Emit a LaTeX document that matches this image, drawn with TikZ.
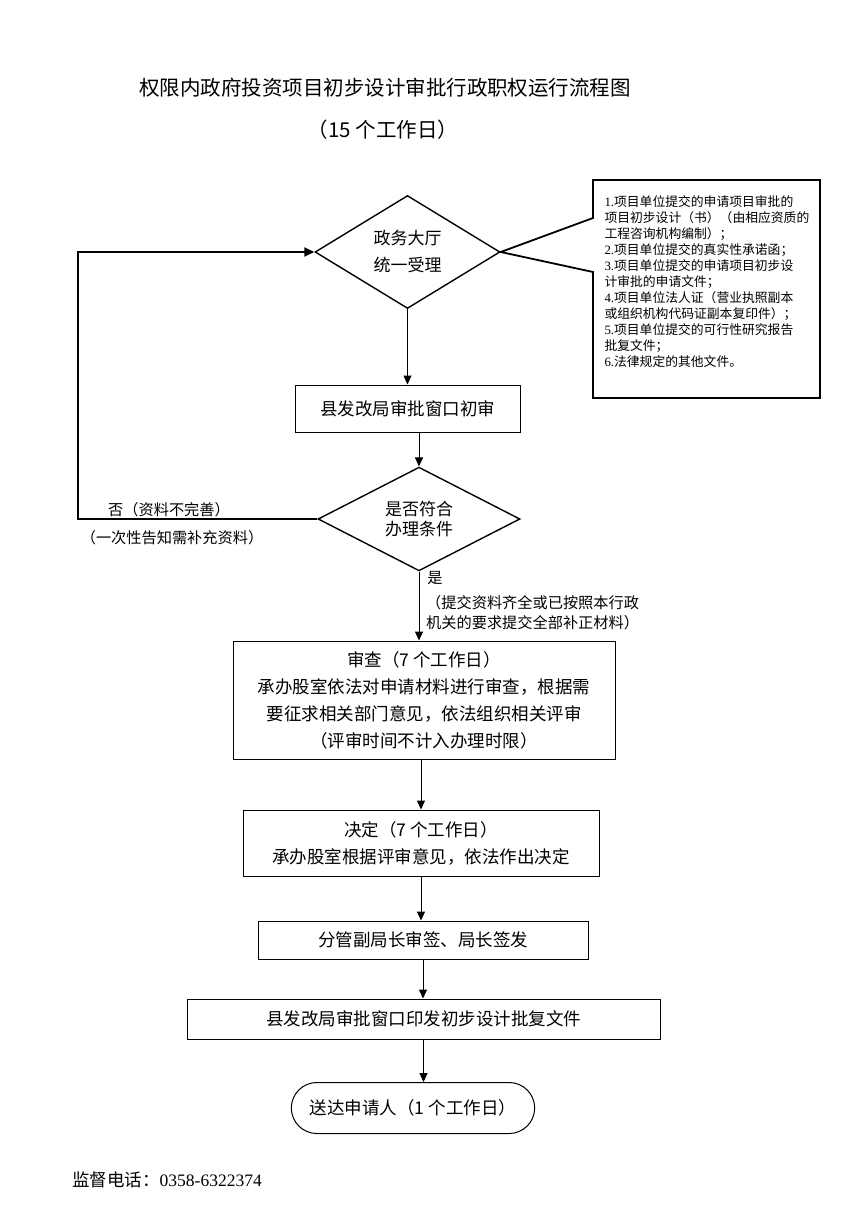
\documentclass[tikz,border=0pt]{standalone}
\usepackage{fontspec}
\setmainfont{Noto Sans CJK SC}
\newfontfamily\lat{Liberation Serif}
\usetikzlibrary{shapes.geometric,shapes.misc,arrows.meta}
\begin{document}
\begin{tikzpicture}[x=1pt,y=-1pt,box/.style={draw,line width=1pt,rectangle,inner sep=2pt,align=center,font=\fontsize{17.5}{27}\selectfont},dm/.style={draw,line width=1.4pt,diamond,inner sep=0pt,align=center,font=\fontsize{17}{27}\selectfont},term/.style={draw,line width=1pt,rounded rectangle,align=center,font=\fontsize{17.5}{27}\selectfont},arr/.style={line width=1pt,-{Triangle[length=9pt,width=8pt]}},lbl/.style={font=\fontsize{15.2}{20}\selectfont,inner sep=0pt},doc/.style={inner sep=0pt,text width=215pt,align=left,font=\fontsize{12.8}{16}\selectfont}]
\useasboundingbox (0,0) rectangle (858,1224);
\node[font=\fontsize{20.5}{24}\selectfont] (title) at (385,88) {权限内政府投资项目初步设计审批行政职权运行流程图};
\node[font=\fontsize{20.5}{24}\selectfont] (sub) at (383,130) {（15 个工作日）};

\node[dm,minimum width=185pt,minimum height=113pt] (zw) at (407.5,252) {政务大厅\\统一受理};
\node[doc] (docs) at (712,282) {{\lat 1.}项目单位提交的申请项目审批的\\项目初步设计（书）（由相应资质的\\工程咨询机构编制）；\\{\lat 2.}项目单位提交的真实性承诺函；\\{\lat 3.}项目单位提交的申请项目初步设\\计审批的申请文件；\\{\lat 4.}项目单位法人证（营业执照副本\\或组织机构代码证副本复印件）；\\{\lat 5.}项目单位提交的可行性研究报告\\批复文件；\\{\lat 6.}法律规定的其他文件。};
\coordinate (c1) at (593,218);
\coordinate (c2) at (593,272);
\coordinate (cne) at (820,180);
\coordinate (csw) at (593,398);
\draw[line width=1.8pt] (zw.east) -- (c1) |- (cne) |- (csw) -- (c2) -- cycle;

\node[box,minimum width=225pt,minimum height=47pt] (init) at (407.5,408.5) {县发改局审批窗口初审};
\node[dm,font=\fontsize{17}{20}\selectfont,minimum width=202pt,minimum height=94pt] (chk) at (419,519) {是否符合\\办理条件};
\node[box,minimum width=382pt,minimum height=118pt] (rev) at (424,700) {审查（7 个工作日）\\承办股室依法对申请材料进行审查，根据需\\要征求相关部门意见，依法组织相关评审\\（评审时间不计入办理时限）};
\node[box,minimum width=356pt,minimum height=66pt] (dec) at (421,843) {决定（7 个工作日）\\承办股室根据评审意见，依法作出决定};
\node[box,minimum width=330pt,minimum height=38pt] (sign) at (423,940) {分管副局长审签、局长签发};
\node[box,minimum width=473pt,minimum height=40pt] (pub) at (423.5,1019) {县发改局审批窗口印发初步设计批复文件};
\node[term,minimum width=250pt,minimum height=51pt] (end) at (413,1108) {送达申请人（1 个工作日）};

\node[lbl] (no1) at (169,510) {否（资料不完善）};
\node[lbl] (no2) at (172,538) {（一次性告知需补充资料）};
\node[lbl] (yes) at (435,578) {是};
\node[lbl,anchor=west,align=left] (yes2) at (426,613) {（提交资料齐全或已按照本行政\\机关的要求提交全部补正材料）};
\node[anchor=west,inner sep=0pt,font=\fontsize{17.5}{20}\selectfont] (tel) at (72,1180) {监督电话：{\lat 0358-6322374}};

\coordinate (lp) at (78,519);
\draw[line width=1.8pt,-{Triangle[length=10pt,width=9pt]}] (chk.west) -- (lp) |- (zw.west);
\draw[arr] (zw.south) -- (init.north);
\draw[arr] (init.south -| chk.north) -- (chk.north);
\draw[arr] (chk.south) -- (chk.south |- rev.north);
\draw[arr] (rev.south -| dec.north) -- (dec.north);
\draw[arr] (dec.south) -- (dec.south |- sign.north);
\draw[arr] (sign.south) -- (sign.south |- pub.north);
\draw[arr] (pub.south) -- (pub.south |- end.north);

\end{tikzpicture}
\end{document}
